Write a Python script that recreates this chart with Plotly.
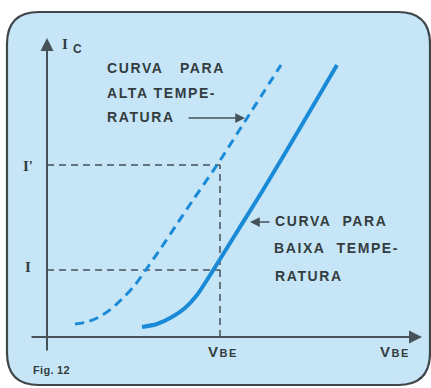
import plotly.graph_objects as go

# Base-emitter voltage vs collector current, two temperatures (arbitrary units)
vbe_high = [28, 40, 52, 64, 77, 88, 98, 112, 130, 146, 170, 202, 234]
ic_high = [13, 15, 20, 28, 40, 52, 66, 86, 113, 137, 172, 222, 272]
vbe_low = [95, 110, 125, 138, 150, 160, 170, 193, 216, 253, 290]
ic_low = [10, 13, 20, 29, 42, 57, 73, 110, 147, 209, 272]

# Reference levels
ic_level = 67
ic_prime = 172
vbe_point = 173

CURVE = "#1a8ad6"
INK = "#343c40"
AXIS = "#45525a"
FILL = "#c6e6f8"

fig = go.Figure()

# Framed panel with rounded corners
x0, x1, y0, y1, r = -40, 383, -48, 325, 32
panel = (f"M {x0 + r},{y1} L {x1 - r},{y1} Q {x1},{y1} {x1},{y1 - r} "
         f"L {x1},{y0 + r} Q {x1},{y0} {x1 - r},{y0} "
         f"L {x0 + r},{y0} Q {x0},{y0} {x0},{y0 + r} "
         f"L {x0},{y1 - r} Q {x0},{y1} {x0 + r},{y1} Z")
fig.add_shape(type="path", path=panel, xref="x", yref="y",
              fillcolor=FILL, line=dict(color="#3f4649", width=2.2), layer="below")

# Guide lines to the operating points
guide = dict(color=AXIS, width=1.5, dash="7px,5px")
fig.add_trace(go.Scatter(x=[0, vbe_point], y=[ic_prime, ic_prime], mode="lines",
                         line=guide, hoverinfo="skip"))
fig.add_trace(go.Scatter(x=[0, vbe_point], y=[ic_level, ic_level], mode="lines",
                         line=guide, hoverinfo="skip"))
fig.add_trace(go.Scatter(x=[vbe_point, vbe_point], y=[0, ic_prime], mode="lines",
                         line=guide, hoverinfo="skip"))

# High-temperature curve (dashed) and low-temperature curve (solid)
fig.add_trace(go.Scatter(x=vbe_high, y=ic_high, mode="lines",
                         line=dict(color=CURVE, width=3, dash="9px,6px",
                                   shape="spline", smoothing=0.8),
                         hoverinfo="skip"))
fig.add_trace(go.Scatter(x=vbe_low, y=ic_low, mode="lines",
                         line=dict(color=CURVE, width=4,
                                   shape="spline", smoothing=0.8),
                         hoverinfo="skip"))


def arrow(x, y, ax, ay, width=2, size=1.2, head=2):
    fig.add_annotation(x=x, y=y, ax=ax, ay=ay, xref="x", yref="y",
                       axref="x", ayref="y", text="", showarrow=True,
                       arrowhead=head, arrowsize=size, arrowwidth=width,
                       arrowcolor=AXIS)


# Axes
arrow(0, 299, 0, -15, width=2, size=1.3)
arrow(375, 0, -17, 0, width=2, size=1.3)

# Pointers from the captions to the curves
arrow(198, 219, 140, 219, width=1.5, size=1.3)
arrow(203, 115, 224, 115, width=1.5, size=1.3)


def label(x, y, text, size=14, family="Liberation Sans", spacing=1.6, color=INK):
    fig.add_annotation(x=x, y=y, xref="x", yref="y", xanchor="left",
                       yanchor="middle", showarrow=False,
                       text=f"<b><span style='letter-spacing:{spacing}px'>{text}</span></b>",
                       font=dict(family=family, size=size, color=color))


label(58, 269, "CURVA&nbsp;&nbsp;&nbsp;PARA")
label(58, 244, "ALTA TEMPE-")
label(58, 220, "RATURA")

label(226, 116, "CURVA&nbsp;&nbsp;PARA")
label(225, 89, "BAIXA&nbsp;&nbsp;TEMPE-")
label(226, 61, "RATURA")

label(13, 293, "I", size=15, family="Liberation Serif", spacing=0)
label(24, 288, "C", size=12, spacing=0)
label(-26, 171, "I'", size=15, family="Liberation Serif", spacing=0)
label(-24, 70, "I", size=15, family="Liberation Serif", spacing=0)

vbe_text = "V<span style='font-size:11px'>BE</span>"
label(159, -14, vbe_text, size=15, spacing=1.5)
label(331, -14, vbe_text, size=15, spacing=1.5)

label(-16, -33, "Fig. 12", size=11, spacing=0.3)

fig.update_layout(
    width=431, height=388, autosize=False,
    margin=dict(l=0, r=0, t=0, b=0),
    paper_bgcolor="white", plot_bgcolor="white",
    showlegend=False,
    xaxis=dict(range=[-47, 384], visible=False, fixedrange=True),
    yaxis=dict(range=[-51, 337], visible=False, fixedrange=True),
)

fig.write_html("out.html")
